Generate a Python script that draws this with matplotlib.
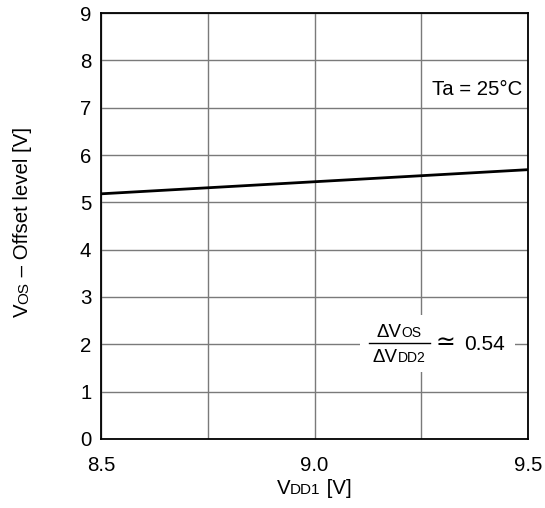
import matplotlib
matplotlib.use("Agg")
import matplotlib.pyplot as plt
from matplotlib.transforms import IdentityTransform
from matplotlib.patches import Rectangle
from matplotlib.lines import Line2D

# ---- data ----
vdd1 = [8.5, 9.5]
vos = [5.18, 5.69]
x_ticks = [8.5, 9.0, 9.5]
x_tick_labels = ["8.5", "9.0", "9.5"]
x_grid = [8.75, 9.25]
y_ticks = list(range(0, 10))
ratio_text = "0.54"
temp_text = "Ta = 25°C"

plt.rcParams['font.family'] = ['Liberation Sans', 'DejaVu Sans']

W, H = 545, 508
FS = 14.7
SUB = 11
fig = plt.figure(figsize=(W / 100, H / 100), dpi=100)
ax = fig.add_axes([101 / W, (H - 439) / H, (528 - 101) / W, (439 - 13) / H])

ax.plot(vdd1, vos, color='black', lw=2, zorder=3, solid_capstyle='butt')
ax.set_xlim(8.5, 9.5)
ax.set_ylim(0, 9)
ax.set_xticks(x_ticks)
ax.set_xticklabels(x_tick_labels)
ax.set_xticks(x_grid, minor=True)
ax.set_yticks(y_ticks)
ax.tick_params(axis='both', which='both', length=0, labelsize=FS)
ax.tick_params(axis='x', pad=12)
ax.tick_params(axis='y', pad=7)
ax.grid(True, which='both', color='#7a7a7a', lw=1)
ax.set_axisbelow(True)
for s in ax.spines.values():
    s.set_color('black')
    s.set_linewidth(1.3)

ax.text(9.486, 7.27, temp_text, fontsize=FS, ha='right', va='baseline')

renderer = fig.canvas.get_renderer()


def rich(pieces, x, y, rotation=0, ha='center', zorder=5):
    """pieces: list of (text, size). x, y: display pixels of baseline anchor."""
    texts = []
    lengths = []
    for s, size in pieces:
        t = fig.text(0, 0, s, fontsize=size, transform=IdentityTransform(),
                     rotation=rotation, rotation_mode='anchor',
                     ha='left', va='baseline', zorder=zorder)
        bb = t.get_window_extent(renderer)
        lengths.append(bb.height if rotation == 90 else bb.width)
        texts.append(t)
    total = sum(lengths)
    start = -total / 2 if ha == 'center' else 0
    pos = start
    for t, L in zip(texts, lengths):
        if rotation == 90:
            t.set_position((x, y + pos))
        else:
            t.set_position((x + pos, y))
        pos += L
    return total


# y label (display coords: origin bottom-left)
rich([("V", FS), ("OS", SUB), (" – Offset level [V]", FS)], 28, H - 222, rotation=90)
# x label
rich([("V", FS), ("DD1", SUB), (" [V]", FS)], 314, H - 494)

# fraction annotation
ax.add_patch(Rectangle((360, H - 372), 155, 57, transform=IdentityTransform(),
                       facecolor='white', edgecolor='none', zorder=1.5, clip_on=False))
num_cx = 399
rich([("ΔV", 13.5), ("OS", 10)], num_cx, H - 337)
rich([("ΔV", 13.5), ("DD2", 10)], num_cx, H - 362)
fig.add_artist(Line2D([369, 430], [H - 343, H - 343], transform=IdentityTransform(),
                      color='black', lw=1))
fig.text(436, H - 349, "≃", fontsize=17, transform=IdentityTransform(),
         ha='left', va='baseline', family=['DejaVu Sans'])
fig.text(464, H - 350, ratio_text, fontsize=15, transform=IdentityTransform(),
         ha='left', va='baseline')

fig.savefig("out.png", dpi=100)
